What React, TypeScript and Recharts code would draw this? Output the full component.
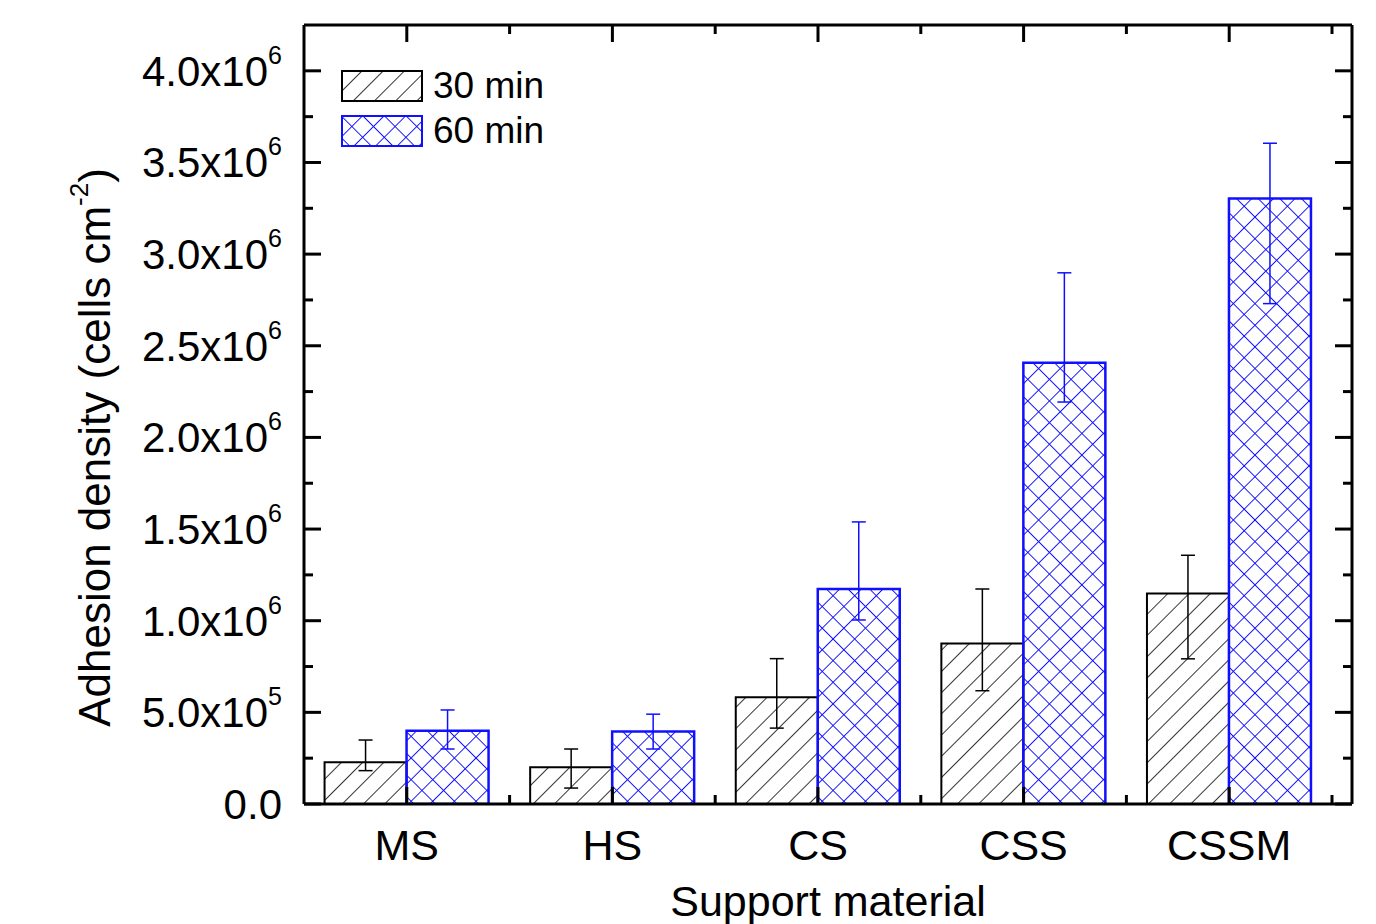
import React from "react";
import { BarChart, Bar, XAxis, YAxis, ErrorBar, Legend, Label } from "recharts";

const FONT = '"Liberation Sans", Arial, Helvetica, sans-serif';
const BLUE = "#1010ff";

// values, cells cm^-2
const categories = ["MS", "HS", "CS", "CSS", "CSSM"];
const density30 = [228000, 200000, 582000, 875000, 1148000];
const err30Low = [46000, 113000, 168000, 257000, 356000];
const err30High = [121000, 100000, 211000, 298000, 209000];
const density60 = [400000, 395000, 1173000, 2407000, 3303000];
const err60Low = [100000, 95000, 169000, 214000, 573000];
const err60High = [113000, 95000, 366000, 491000, 302000];

// major ticks every 5x10^5, minor in between
const yTicks = [
  0, 250000, 500000, 750000, 1000000, 1250000, 1500000, 1750000, 2000000,
  2250000, 2500000, 2750000, 3000000, 3250000, 3500000, 3750000, 4000000,
];
const yMax = 4250000;
const majorStep = 500000;

const data = categories.map((cat, i) => ({
  cat,
  m30: density30[i],
  e30: [err30Low[i], err30High[i]],
  m60: density60[i],
  e60: [err60Low[i], err60High[i]],
}));

function sci(v: number) {
  if (v === 0) return { mant: "0.0", exp: null as string | null };
  const exp = Math.floor(Math.log10(v));
  return { mant: (v / Math.pow(10, exp)).toFixed(1), exp: String(exp) };
}

const isMajor = (v: number) => v % majorStep === 0;

function LeftTick({ x, y, payload }: any) {
  const v = payload.value;
  const major = isMajor(v);
  const { mant, exp } = sci(v);
  return (
    <g>
      <line x1={x} y1={y} x2={x + (major ? 17 : 9)} y2={y} stroke="#000" strokeWidth={3} />
      {major && (
        <text x={x - 22} y={y + 15} textAnchor="end" fontSize={42} fontFamily={FONT} fill="#000">
          {exp ? mant + "x10" : mant}
          {exp && (
            <tspan fontSize={25} dy={-22}>
              {exp}
            </tspan>
          )}
        </text>
      )}
    </g>
  );
}

function RightTick({ x, y, payload }: any) {
  const major = isMajor(payload.value);
  return <line x1={x} y1={y} x2={x - (major ? 17 : 9)} y2={y} stroke="#000" strokeWidth={3} />;
}

function BottomTick({ x, y, payload }: any) {
  const half = payload.offset || 0;
  return (
    <g>
      <line x1={x} y1={y} x2={x} y2={y - 17} stroke="#000" strokeWidth={3} />
      <line x1={x + half} y1={y} x2={x + half} y2={y - 9} stroke="#000" strokeWidth={3} />
      <text x={x} y={y + 56} textAnchor="middle" fontSize={43} fontFamily={FONT} fill="#000">
        {payload.value}
      </text>
    </g>
  );
}

function TopTick({ x, y, payload }: any) {
  const half = payload.offset || 0;
  return (
    <g>
      <line x1={x} y1={y} x2={x} y2={y + 17} stroke="#000" strokeWidth={3} />
      <line x1={x + half} y1={y} x2={x + half} y2={y + 9} stroke="#000" strokeWidth={3} />
    </g>
  );
}

function YTitle({ viewBox }: any) {
  const cx = viewBox.x - 134;
  const cy = viewBox.y + viewBox.height / 2 + 33;
  return (
    <text
      x={cx}
      y={cy}
      transform={`rotate(-90, ${cx}, ${cy})`}
      textAnchor="middle"
      fontSize={44}
      fontFamily={FONT}
      fill="#000"
    >
      Adhesion density (cells cm
      <tspan fontSize={26} dy={-22}>
        -2
      </tspan>
      <tspan dy={22}>)</tspan>
    </text>
  );
}

function XTitle({ viewBox }: any) {
  return (
    <text
      x={viewBox.x + viewBox.width / 2}
      y={viewBox.y + 112}
      textAnchor="middle"
      fontSize={43}
      fontFamily={FONT}
      fill="#000"
    >
      Support material
    </text>
  );
}

function LegendBox({ payload }: any) {
  return (
    <div style={{ fontFamily: FONT }}>
      {(payload || []).map((entry: any) => {
        const is60 = entry.dataKey === "m60";
        return (
          <div key={entry.value} style={{ display: "flex", alignItems: "center", height: 45 }}>
            <svg width={82} height={32} style={{ display: "block" }}>
              <rect
                x={1}
                y={1}
                width={80}
                height={30}
                fill={is60 ? "url(#cross60)" : "url(#hatch30)"}
                stroke={is60 ? BLUE : "#000"}
                strokeWidth={2}
              />
            </svg>
            <span style={{ fontSize: 37, marginLeft: 10, color: "#000", lineHeight: "37px" }}>{entry.value}</span>
          </div>
        );
      })}
    </div>
  );
}

export default function App() {
  return (
    <div style={{ position: "absolute", left: 0, top: 0, background: "#fff" }}>
      <BarChart
        width={1376}
        height={924}
        data={data}
        margin={{ top: 5, right: 4, bottom: 90, left: 244 }}
        barCategoryGap="10%"
        barGap={0}
      >
        <defs>
          <pattern id="hatch30" patternUnits="userSpaceOnUse" width={15} height={15} patternTransform="rotate(45)">
            <line x1={0} y1={0} x2={0} y2={15} stroke="#111" strokeWidth={1.7} />
          </pattern>
          <pattern id="cross60" patternUnits="userSpaceOnUse" width={15.3} height={15.3} patternTransform="rotate(45)">
            <line x1={0} y1={0} x2={0} y2={15.3} stroke={BLUE} strokeWidth={1.9} />
            <line x1={0} y1={0} x2={15.3} y2={0} stroke={BLUE} strokeWidth={1.9} />
          </pattern>
        </defs>
        <XAxis
          dataKey="cat"
          type="category"
          height={30}
          padding={{ left: 0, right: 20 }}
          axisLine={{ stroke: "#000", strokeWidth: 3 }}
          tickLine={false}
          tickSize={0}
          tickMargin={0}
          interval={0}
          tick={<BottomTick />}
        >
          <Label content={<XTitle />} />
        </XAxis>
        <XAxis
          xAxisId="top"
          dataKey="cat"
          type="category"
          orientation="top"
          height={20}
          padding={{ left: 0, right: 20 }}
          axisLine={{ stroke: "#000", strokeWidth: 3 }}
          tickLine={false}
          tickSize={0}
          tickMargin={0}
          interval={0}
          tick={<TopTick />}
        />
        <YAxis
          domain={[0, yMax]}
          ticks={yTicks}
          interval={0}
          width={60}
          allowDataOverflow
          axisLine={{ stroke: "#000", strokeWidth: 3 }}
          tickLine={false}
          tickSize={0}
          tickMargin={0}
          tick={<LeftTick />}
        >
          <Label content={<YTitle />} />
        </YAxis>
        <YAxis
          yAxisId="right"
          orientation="right"
          domain={[0, yMax]}
          ticks={yTicks}
          interval={0}
          width={20}
          allowDataOverflow
          axisLine={{ stroke: "#000", strokeWidth: 3 }}
          tickLine={false}
          tickSize={0}
          tickMargin={0}
          tick={<RightTick />}
        />
        <Legend
          layout="vertical"
          align="center"
          verticalAlign="middle"
          content={<LegendBox />}
          wrapperStyle={{ left: 341, top: 63, width: "auto", height: "auto" }}
        />
        <Bar dataKey="m30" name="30 min" fill="url(#hatch30)" stroke="#000" strokeWidth={2} isAnimationActive={false}>
          <ErrorBar dataKey="e30" width={7} stroke="#000" strokeWidth={1.5} direction="y" isAnimationActive={false} />
        </Bar>
        <Bar dataKey="m60" name="60 min" fill="url(#cross60)" stroke={BLUE} strokeWidth={2.5} isAnimationActive={false}>
          <ErrorBar dataKey="e60" width={7} stroke={BLUE} strokeWidth={1.5} direction="y" isAnimationActive={false} />
        </Bar>
      </BarChart>
    </div>
  );
}
